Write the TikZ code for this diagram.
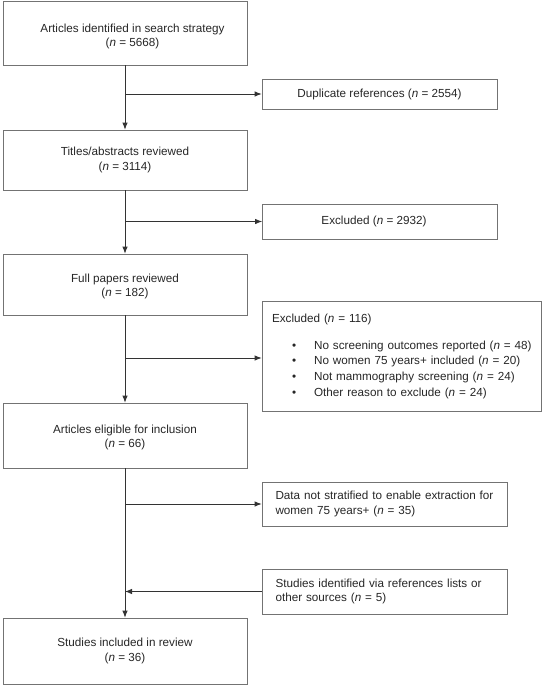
\documentclass[tikz,border=0pt]{standalone}
\usepackage{fontspec}
\setmainfont{Liberation Sans}
\usetikzlibrary{arrows.meta}
\newcommand{\nn}{\textit{n}}
\newcommand{\exclitem}[1]{\mbox{\hspace*{20pt}\textbullet\hspace{18pt}#1}}

\begin{document}
\begin{tikzpicture}[x=1pt,y=-1pt,>={Latex[length=7pt,width=5.5pt]},
  font=\fontsize{11.7}{14.3}\selectfont,
  mainbox/.style={draw=black!55,line width=0.8pt,minimum width=244pt,align=center,text=black!85},
  sidebox/.style={draw=black!55,line width=0.8pt,minimum width=235pt,align=center,text=black!85},
  notebox/.style={draw=black!55,line width=0.8pt,align=left,text=black!85,inner xsep=13.5pt,text width=218pt},
  flow/.style={->,draw=black!80,line width=0.8pt}]
\path[use as bounding box] (0,0) rectangle (550,685);

% main column
\node[mainbox,minimum height=64pt] (ident) at (125,33)
  {\rule{0pt}{15.5pt}\hspace*{15pt}Articles identified in search strategy\\\hspace*{15pt}(\nn{} = 5668)};
\node[mainbox,minimum height=60pt] (titles) at (125,160) {Titles/abstracts reviewed\\(\nn{} = 3114)};
\node[mainbox,minimum height=61pt] (full) at (125,284.5) {\rule{0pt}{12pt}Full papers reviewed\\(\nn{} = 182)};
\node[mainbox,minimum height=65pt] (elig) at (125,435.5) {\rule{0pt}{12.5pt}Articles eligible for inclusion\\(\nn{} = 66)};
\node[mainbox,minimum height=66pt] (incl) at (125,651) {Studies included in review\\(\nn{} = 36)};

% side boxes
\node[sidebox,minimum height=30pt] (dup) at (379.5,94) {Duplicate references (\nn{} = 2554)};
\node[sidebox,minimum height=35pt] (exone) at (380,221.5) {Excluded (\nn{} = 2932)\hspace*{12pt}};
\node[notebox,text width=259pt,inner xsep=10pt,minimum height=110pt] (extwo) at (401.5,356.5)
  {Excluded (\nn{} = 116)\\[12pt]
   \exclitem{No screening outcomes reported (\nn{} = 48)}\\[1.3pt]
   \exclitem{No women 75 years+ included (\nn{} = 20)}\\[1.3pt]
   \exclitem{Not mammography screening (\nn{} = 24)}\\[1.3pt]
   \exclitem{Other reason to exclude (\nn{} = 24)}};
\node[notebox,minimum height=44pt] (nostrat) at (384.5,504) {Data not stratified to enable extraction for\\women 75 years+ (\nn{} = 35)};
\node[notebox,minimum height=45pt] (other) at (384.5,591.5) {Studies identified via references lists or\\other sources (\nn{} = 5)};

% connectors
\draw[flow] (ident) -- (titles);
\draw[flow] (titles) -- (full);
\draw[flow] (full) -- (elig);
\draw[flow] (elig) -- (incl);
\draw[flow] (ident.south |- dup.west) -- (dup.west);
\draw[flow] (titles.south |- exone.west) -- (exone.west);
\draw[flow] (full.south |- 0,358) -- (extwo.west |- 0,358);
\draw[flow] (elig.south |- nostrat.west) -- (nostrat.west);
\draw[flow] (other.west) -- (other.west -| incl.north);
\end{tikzpicture}
\end{document}
